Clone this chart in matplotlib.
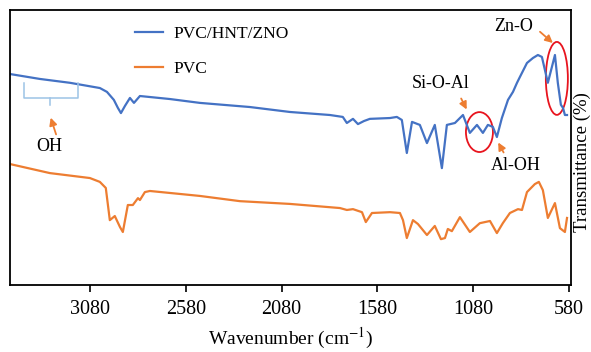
import numpy as np
import matplotlib
matplotlib.use("Agg")
import matplotlib.pyplot as plt
from matplotlib.patches import Ellipse

plt.rcParams["font.family"] = ["Liberation Serif", "DejaVu Serif"]
plt.rcParams["mathtext.fontset"] = "stix"

# FTIR spectra (wavenumber in cm-1, transmittance a.u.)
wn_blend = [3498, 3341, 3184, 3028, 2991, 2955, 2934, 2918, 2897, 2871, 2850, 2819,
            2662, 2506, 2245, 2036, 1827, 1760, 1739, 1707, 1681, 1650, 1619, 1514,
            1478, 1452, 1426, 1399, 1358, 1321, 1280, 1243, 1217, 1175, 1133, 1097,
            1060, 1029, 1003, 977, 956, 930, 898, 872, 851, 836, 799, 768, 742, 721,
            690, 653, 638, 622, 611, 601, 590]
t_blend = [76.7, 74.9, 73.5, 71.6, 70.2, 67.3, 64.4, 62.5, 65.1, 68.0, 66.2, 68.7,
           67.6, 66.2, 64.7, 62.9, 61.8, 61.1, 58.9, 60.4, 58.5, 59.6, 60.4, 60.7,
           61.1, 60.0, 48.0, 59.3, 58.2, 51.6, 58.2, 42.5, 58.2, 58.9, 61.8, 55.3,
           58.2, 55.3, 58.2, 57.5, 53.8, 60.7, 67.3, 70.2, 73.5, 75.6, 80.7, 82.5,
           83.6, 82.9, 73.5, 83.6, 73.5, 65.5, 64.4, 61.8, 61.8]

wn_pvc = [3498, 3289, 3080, 3028, 2997, 2976, 2950, 2923, 2908, 2882, 2856, 2829,
          2819, 2793, 2767, 2506, 2297, 2036, 1775, 1739, 1707, 1660, 1640, 1608,
          1514, 1462, 1446, 1426, 1394, 1368, 1321, 1280, 1248, 1227, 1212, 1191,
          1149, 1097, 1045, 992, 956, 925, 888, 846, 825, 799, 758, 737, 716, 690,
          653, 627, 601, 590]
t_pvc = [44.0, 40.7, 38.9, 37.5, 35.3, 23.6, 25.1, 21.1, 19.3, 29.1, 29.1, 31.6,
         30.9, 33.8, 34.2, 32.4, 30.5, 29.5, 28.0, 27.3, 27.6, 26.5, 22.9, 26.2,
         26.5, 26.2, 23.6, 17.1, 23.6, 22.2, 18.2, 21.5, 16.7, 17.1, 20.4, 19.6,
         24.7, 19.3, 22.5, 23.3, 18.9, 22.5, 26.2, 27.6, 27.3, 33.8, 36.7, 37.5,
         34.5, 24.4, 29.8, 20.7, 19.3, 24.4]

xticks = [3080, 2580, 2080, 1580, 1080, 580]

BLUE = "#4472C4"
ORANGE = "#ED7D31"

fig = plt.figure(figsize=(5.91, 3.52), dpi=100)
ax = fig.add_axes([0.0169, 0.190, 0.949, 0.782])

ax.plot(wn_blend, t_blend, color=BLUE, lw=1.6, label="PVC/HNT/ZNO")
ax.plot(wn_pvc, t_pvc, color=ORANGE, lw=1.6, label="PVC")

ax.set_xlim(3497, 570)
ax.set_ylim(0, 100)
ax.set_xticks(xticks)
ax.set_xticklabels([str(v) for v in xticks], fontsize=14.5)
ax.set_yticks([])
ax.tick_params(axis="x", direction="out", length=5, width=1.2, pad=6)
for s in ax.spines.values():
    s.set_linewidth(1.3)

ax.set_xlabel("Wavenumber (cm$^{-1}$)", fontsize=14, labelpad=5)
fig.text(0.970, 0.54, "Transmittance (%)", rotation=90, fontsize=13.5,
         ha="left", va="center")

ax.legend(loc="upper left", bbox_to_anchor=(0.195, 1.0), frameon=False,
          fontsize=12.5, handlelength=1.6, handletextpad=0.6, labelspacing=1.1)

arrow = dict(arrowstyle="-|>", color=ORANGE, lw=1.3, mutation_scale=11)

# OH bracket
ax.plot([3425, 3425, 3143, 3143], [73.5, 68, 68, 73.5], color="#9DC3E6", lw=1.1)
ax.plot([3289, 3289], [68, 65.5], color="#9DC3E6", lw=1.1)
ax.annotate("", xy=(3289, 61.8), xytext=(3252, 53.8), arrowprops=arrow)
ax.text(3294, 50.5, "OH", fontsize=13, ha="center", va="center")

# Si-O-Al
ax.add_patch(Ellipse((1047, 55.6), 141, 14.5, fill=False, ec="#E8141E", lw=1.3))
ax.annotate("", xy=(1107, 62.9), xytext=(1149, 68.7), arrowprops=arrow)
ax.text(1248, 73.1, "Si-O-Al", fontsize=13, ha="center", va="center")

# Al-OH
ax.annotate("", xy=(956, 52.7), xytext=(914, 47.3), arrowprops=arrow)
ax.text(857, 43.3, "Al-OH", fontsize=13, ha="center", va="center")

# Zn-O
ax.add_patch(Ellipse((643, 75.1), 115, 26.5, fill=False, ec="#E8141E", lw=1.3))
ax.annotate("", xy=(653, 87.3), xytext=(742, 92.7), arrowprops=arrow)
ax.text(867, 93.8, "Zn-O", fontsize=13, ha="center", va="center")

fig.savefig("out.png", dpi=100)
